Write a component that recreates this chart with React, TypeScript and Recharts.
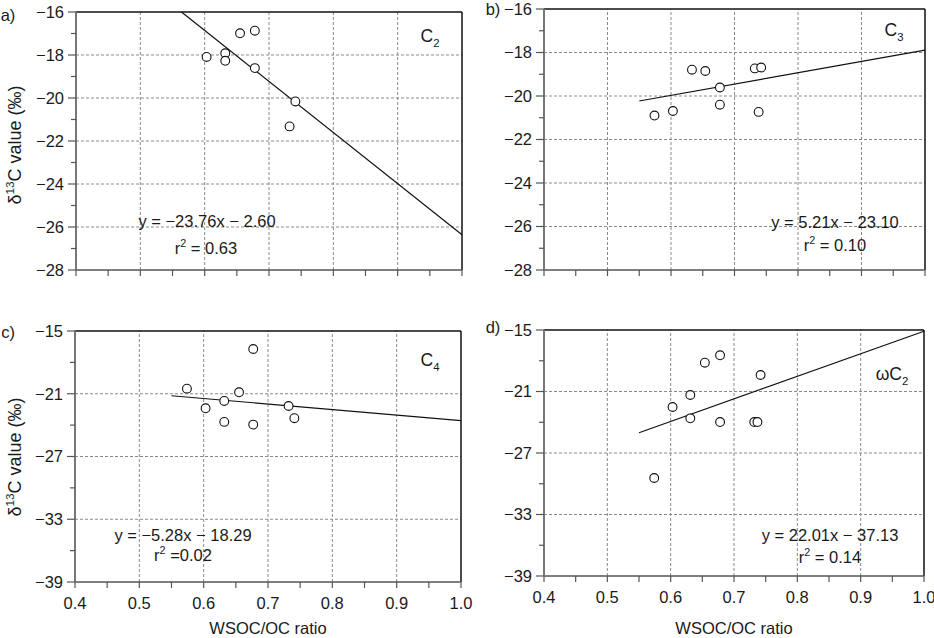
import React from 'react';
import { ScatterChart, Scatter, XAxis, YAxis, ReferenceLine } from 'recharts';

const FONT = '"Liberation Sans", Arial, Helvetica, sans-serif';
const INK = '#1a1a1a';

// shared x axis
const xTicks = [0.4, 0.45, 0.5, 0.55, 0.6, 0.65, 0.7, 0.75, 0.8, 0.85, 0.9, 0.95, 1.0];
const xLabels = [0.4, 0.5, 0.6, 0.7, 0.8, 0.9, 1.0];
const gridX = [0.5, 0.6, 0.7, 0.8, 0.9];

// panel a) C2
const aX = [0.603, 0.632, 0.632, 0.655, 0.678, 0.678, 0.741, 0.732];
const aY = [-18.09, -17.92, -18.27, -16.99, -16.87, -18.61, -20.16, -21.32];
const aLine = [{ x: 0.564, y: -16 }, { x: 1.0, y: -26.36 }];

// panel b) C3
const bX = [0.574, 0.603, 0.633, 0.654, 0.677, 0.677, 0.732, 0.742, 0.738];
const bY = [-20.9, -20.69, -18.79, -18.85, -19.61, -20.4, -18.73, -18.69, -20.73];
const bLine = [{ x: 0.55, y: -20.23 }, { x: 1.0, y: -17.89 }];

// panel c) C4
const cX = [0.574, 0.603, 0.632, 0.632, 0.655, 0.677, 0.677, 0.732, 0.741];
const cY = [-20.51, -22.39, -21.69, -23.69, -20.86, -16.72, -23.95, -22.17, -23.34];
const cLine = [{ x: 0.55, y: -21.19 }, { x: 1.0, y: -23.57 }];

// panel d) wC2
const dX = [0.574, 0.603, 0.631, 0.631, 0.654, 0.678, 0.678, 0.732, 0.737, 0.742];
const dY = [-29.44, -22.51, -21.34, -23.62, -18.19, -17.47, -23.98, -23.98, -23.98, -19.39];
const dLine = [{ x: 0.55, y: -25.02 }, { x: 1.0, y: -15.12 }];

// y axes
const yTicksTop = [-28, -27, -26, -25, -24, -23, -22, -21, -20, -19, -18, -17, -16];
const yLabelsTop = [-28, -26, -24, -22, -20, -18, -16];
const gridYTop = [-26, -24, -22, -20, -18];
const yTicksBot = [-39, -36, -33, -30, -27, -24, -21, -18, -15];
const yLabelsBot = [-39, -33, -27, -21, -15];
const gridYBot = [-33, -27, -21];

const toPts = (xs: number[], ys: number[]) => xs.map((x, i) => ({ x, y: ys[i] }));
const fmtY = (v: number) => (v < 0 ? `\u2212${Math.abs(v)}` : `${v}`);
const fmtX = (v: number) => v.toFixed(1);
const near = (a: number, b: number) => Math.abs(a - b) < 1e-6;

function makeYTick(labels: number[]) {
  return (props: any) => {
    const { x, y, payload } = props;
    const v = payload.value;
    const major = labels.some((l) => near(l, v));
    return (
      <g>
        <line x1={x - (major ? 8 : 5)} x2={x} y1={y} y2={y} stroke="#555" strokeWidth={1.2} />
        {major && (
          <text x={x - 12} y={y} dy="0.36em" textAnchor="end" fontSize={16.5} fontFamily={FONT} fill={INK}>
            {fmtY(v)}
          </text>
        )}
      </g>
    );
  };
}

function makeXTick(show: boolean) {
  return (props: any) => {
    const { x, y, payload } = props;
    const v = payload.value;
    const major = xLabels.some((l) => near(l, v));
    return (
      <g>
        <line x1={x} x2={x} y1={y} y2={y + 6} stroke="#555" strokeWidth={1.2} />
        {show && major && (
          <text x={x} y={y + 21} dy="0.36em" textAnchor="middle" fontSize={16.5} fontFamily={FONT} fill={INK}>
            {fmtX(v)}
          </text>
        )}
      </g>
    );
  };
}

const Ring = (p: any) => (
  <circle cx={p.cx} cy={p.cy} r={4.4} fill="#fff" stroke="#111" strokeWidth={1.1} />
);

type PanelProps = {
  left: number;
  top: number;
  W: number;
  H: number;
  plot: { l: number; r: number; t: number; b: number };
  pts: { x: number; y: number }[];
  line: { x: number; y: number }[];
  yDomain: [number, number];
  yTicks: number[];
  yLabels: number[];
  gridY: number[];
  showX: boolean;
};

function Panel(p: PanelProps) {
  const yw = 60;
  const xh = 30;
  const margin = {
    top: p.plot.t,
    right: p.W - p.plot.r,
    bottom: Math.max(0, p.H - p.plot.b - xh),
    left: p.plot.l - yw,
  };
  return (
    <div style={{ position: 'absolute', left: p.left, top: p.top }}>
      <ScatterChart width={p.W} height={p.H} margin={margin}>
        <XAxis
          type="number"
          dataKey="x"
          domain={[0.4, 1.0]}
          ticks={xTicks}
          interval={0}
          allowDataOverflow
          height={xh}
          tickSize={0}
          tickMargin={0}
          tickLine={false}
          axisLine={{ stroke: '#555', strokeWidth: 1.6 }}
          tick={makeXTick(p.showX)}
        />
        <YAxis
          type="number"
          dataKey="y"
          domain={p.yDomain}
          ticks={p.yTicks}
          interval={0}
          allowDataOverflow
          width={yw}
          tickSize={0}
          tickMargin={0}
          tickLine={false}
          axisLine={{ stroke: '#777', strokeWidth: 2 }}
          tick={makeYTick(p.yLabels)}
        />
        {gridX.map((v) => (
          <ReferenceLine key={`gx${v}`} x={v} stroke="#8a8a8a" strokeDasharray="3 2" strokeWidth={1} />
        ))}
        {p.gridY.map((v) => (
          <ReferenceLine key={`gy${v}`} y={v} stroke="#8a8a8a" strokeDasharray="3 2" strokeWidth={1} />
        ))}
        <ReferenceLine y={p.yDomain[1]} stroke="#111" strokeWidth={1.5} />
        <ReferenceLine x={1.0} stroke="#111" strokeWidth={1.5} />
        <ReferenceLine segment={p.line} stroke="#111" strokeWidth={1.2} />
        <Scatter data={p.pts} isAnimationActive={false} shape={Ring} />
      </ScatterChart>
    </div>
  );
}

function T({ x, y, size = 16.5, children }: { x: number; y: number; size?: number; children: React.ReactNode }) {
  return (
    <div
      style={{
        position: 'absolute',
        left: x,
        top: y,
        transform: 'translate(-50%, -50%)',
        fontFamily: FONT,
        fontSize: size,
        color: INK,
        whiteSpace: 'nowrap',
        lineHeight: 1,
      }}
    >
      {children}
    </div>
  );
}

const sup = { fontSize: '0.65em', verticalAlign: 'top', position: 'relative' as const, top: '-0.15em' };
const sub = { fontSize: '0.65em', position: 'relative' as const, top: '0.45em' };

function YTitle({ x, y }: { x: number; y: number }) {
  return (
    <div
      style={{
        position: 'absolute',
        left: x,
        top: y,
        transform: 'translate(-50%, -50%) rotate(-90deg)',
        fontFamily: FONT,
        fontSize: 18,
        color: INK,
        whiteSpace: 'nowrap',
        lineHeight: 1,
      }}
    >
      δ<span style={sup}>13</span>C value (‰)
    </div>
  );
}

export default function App() {
  return (
    <div style={{ position: 'relative', width: 934, height: 638, background: '#fff', overflow: 'hidden' }}>
      <style>{'body{margin:0}'}</style>
      <Panel
        left={0} top={0} W={467} H={300}
        plot={{ l: 76, r: 462, t: 12, b: 279 }}
        pts={toPts(aX, aY)} line={aLine}
        yDomain={[-28, -16]} yTicks={yTicksTop} yLabels={yLabelsTop} gridY={gridYTop} showX={false}
      />
      <Panel
        left={467} top={0} W={467} H={300}
        plot={{ l: 77, r: 458, t: 9, b: 277 }}
        pts={toPts(bX, bY)} line={bLine}
        yDomain={[-28, -16]} yTicks={yTicksTop} yLabels={yLabelsTop} gridY={gridYTop} showX={false}
      />
      <Panel
        left={0} top={300} W={485} H={338}
        plot={{ l: 75, r: 461, t: 31, b: 282 }}
        pts={toPts(cX, cY)} line={cLine}
        yDomain={[-39, -15]} yTicks={yTicksBot} yLabels={yLabelsBot} gridY={gridYBot} showX={true}
      />
      <Panel
        left={467} top={300} W={467} H={338}
        plot={{ l: 77, r: 457, t: 30, b: 276 }}
        pts={toPts(dX, dY)} line={dLine}
        yDomain={[-39, -15]} yTicks={yTicksBot} yLabels={yLabelsBot} gridY={gridYBot} showX={true}
      />

      <T x={8} y={15}>a)</T>
      <T x={493} y={9}>b)</T>
      <T x={8} y={332}>c)</T>
      <T x={493} y={327}>d)</T>

      <YTitle x={15} y={145} />
      <YTitle x={15} y={457} />

      <T x={430} y={37} size={17.5}>C<span style={sub}>2</span></T>
      <T x={894} y={31} size={17.5}>C<span style={sub}>3</span></T>
      <T x={430} y={361} size={17.5}>C<span style={sub}>4</span></T>
      <T x={892} y={375} size={17.5}>ωC<span style={sub}>2</span></T>

      <T x={207} y={221}>y = −23.76x − 2.60</T>
      <T x={206} y={248}>r<span style={sup}>2</span> = 0.63</T>
      <T x={835} y={222}>y = 5.21x − 23.10</T>
      <T x={835} y={245}>r<span style={sup}>2</span> = 0.10</T>
      <T x={183} y={535}>y = −5.28x − 18.29</T>
      <T x={183} y={555}>r<span style={sup}>2</span> =0.02</T>
      <T x={830} y={535}>y = 22.01x − 37.13</T>
      <T x={830} y={557}>r<span style={sup}>2</span> = 0.14</T>

      <T x={268} y={628}>WSOC/OC ratio</T>
      <T x={734} y={628}>WSOC/OC ratio</T>
    </div>
  );
}
